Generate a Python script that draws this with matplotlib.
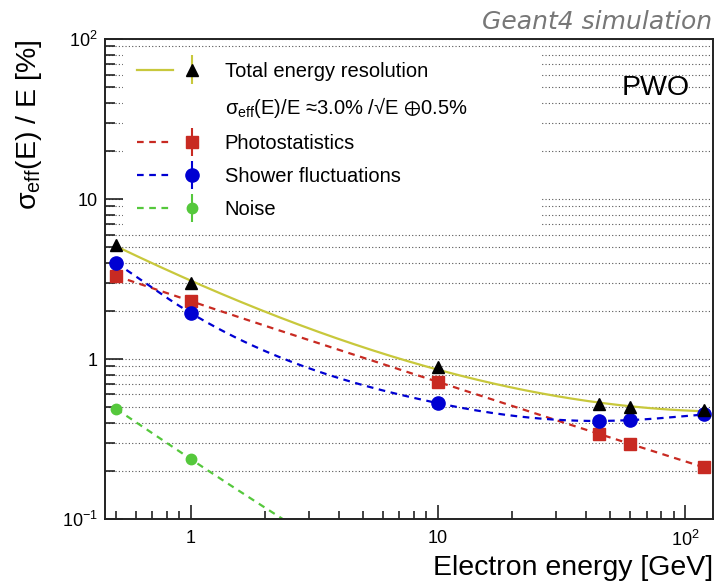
import numpy as np
import matplotlib
matplotlib.use('Agg')
import matplotlib.pyplot as plt
from matplotlib.lines import Line2D
from matplotlib.patches import Rectangle
from matplotlib.container import ErrorbarContainer
from matplotlib.legend_handler import HandlerTuple, HandlerErrorbar
from matplotlib.ticker import FixedLocator, FixedFormatter, LogLocator, NullFormatter

plt.rcParams['font.family'] = ['Liberation Sans', 'DejaVu Sans']
plt.rcParams['mathtext.fontset'] = 'custom'
plt.rcParams['mathtext.rm'] = 'Liberation Sans'
plt.rcParams['mathtext.it'] = 'Liberation Sans:italic'
plt.rcParams['mathtext.fallback'] = 'stixsans'

# electron energies [GeV]
energy = [0.5, 1, 10, 45, 60, 120]
# sigma_eff/E [%]
res_total = [5.16, 2.99, 0.89, 0.52, 0.50, 0.48]
res_photo = [3.30, 2.30, 0.72, 0.34, 0.295, 0.21]
res_shower = [3.98, 1.94, 0.53, 0.41, 0.415, 0.45]
res_noise = [0.487, 0.237, 0.024, 0.0053, 0.0040, 0.0020]

col_tot = '#c8c83c'
col_photo = '#c82a22'
col_shower = '#0000d2'
col_noise = '#55c83c'


def smooth_curve(x, y, n=80):
    # cubic hermite curve through the points, done in log-log space
    lx = np.log10(x)
    ly = np.log10(y)
    h = np.diff(lx)
    d = np.diff(ly) / h
    m = np.empty(len(lx))
    m[0] = d[0]
    m[-1] = d[-1]
    m[1:-1] = (d[:-1] * h[1:] + d[1:] * h[:-1]) / (h[:-1] + h[1:])
    xs = []
    ys = []
    for i in range(len(h)):
        t = np.linspace(0, 1, n)
        h00 = 2 * t**3 - 3 * t**2 + 1
        h10 = t**3 - 2 * t**2 + t
        h01 = -2 * t**3 + 3 * t**2
        h11 = t**3 - t**2
        xs.append(lx[i] + t * h[i])
        ys.append(h00 * ly[i] + h10 * h[i] * m[i] + h01 * ly[i + 1] + h11 * h[i] * m[i + 1])
    return 10**np.concatenate(xs), 10**np.concatenate(ys)


def fit_curve(x, y, n=300):
    # cubic fit in log-log space for the total resolution
    lx = np.log10(x)
    p = np.polyfit(lx, np.log10(y), 3)
    xx = np.linspace(lx.min(), lx.max(), n)
    return 10**xx, 10**np.polyval(p, xx)


fig = plt.figure(figsize=(7.18, 5.84), dpi=100)
ax = fig.add_axes([0.1462, 0.1113, 0.8468, 0.8219])
ax.set_xscale('log')
ax.set_yscale('log')
ax.set_xlim(0.45, 130)
ax.set_ylim(0.1, 100)
ax.set_axisbelow(True)

E = np.array(energy, dtype=float)
dash = (0, (3, 2.5))

cx, cy = fit_curve(E, np.array(res_total))
ax.plot(cx, cy, color=col_tot, lw=1.6, zorder=2)
cx, cy = smooth_curve(E, np.array(res_photo))
ax.plot(cx, cy, color=col_photo, lw=1.6, ls=dash, zorder=2)
cx, cy = smooth_curve(E, np.array(res_shower))
ax.plot(cx, cy, color=col_shower, lw=1.6, ls=dash, zorder=2)
cx, cy = smooth_curve(E, np.array(res_noise))
ax.plot(cx, cy, color=col_noise, lw=1.6, ls=dash, zorder=2)

ax.plot(E, res_photo, 's', color=col_photo, ms=8, ls='none', zorder=3)
ax.plot(E, res_shower, 'o', color=col_shower, ms=9.5, ls='none', zorder=3)
ax.plot(E, res_noise, 'o', color=col_noise, ms=7.5, ls='none', zorder=3)
ax.plot(E, res_total, '^', color='black', ms=9, ls='none', zorder=4)

# white box behind the legend hides the grid there
ax.add_patch(Rectangle((0.03, 0.602), 0.685, 0.375, transform=ax.transAxes,
                       facecolor='white', edgecolor='none', zorder=1))

# legend proxies with error bars
eb_tot = ax.errorbar([], [], yerr=[], fmt='^', color='black', ecolor=col_tot, ms=9,
                     capsize=3, elinewidth=1.5, capthick=1.5)
eb_photo = ax.errorbar([], [], yerr=[], fmt='s', color=col_photo, ms=8,
                       capsize=3, elinewidth=1.5, capthick=1.5)
eb_shower = ax.errorbar([], [], yerr=[], fmt='o', color=col_shower, ms=9.5,
                        capsize=3, elinewidth=1.5, capthick=1.5)
eb_noise = ax.errorbar([], [], yerr=[], fmt='o', color=col_noise, ms=7.5,
                       capsize=3, elinewidth=1.5, capthick=1.5)
ln_tot = Line2D([], [], color=col_tot, lw=1.6)
ln_photo = Line2D([], [], color=col_photo, lw=1.6, ls=dash)
ln_shower = Line2D([], [], color=col_shower, lw=1.6, ls=dash)
ln_noise = Line2D([], [], color=col_noise, lw=1.6, ls=dash)
blank = Line2D([], [], ls='none', marker='none')

handles = [(ln_tot, eb_tot), blank, (ln_photo, eb_photo), (ln_shower, eb_shower), (ln_noise, eb_noise)]
labels = ['Total energy resolution',
          'σ$_{\\rm eff}$(E)/E ≈3.0% /√E $\\oplus$0.5%',
          'Photostatistics',
          'Shower fluctuations',
          'Noise']
ax.legend(handles, labels, loc='upper left', bbox_to_anchor=(0.053, 0.953),
          frameon=False, fontsize=14.5, handlelength=3.6, handletextpad=0.75,
          labelspacing=0.7, borderpad=0, borderaxespad=0,
          handler_map={tuple: HandlerTuple(ndivide=None),
                       ErrorbarContainer: HandlerErrorbar(xerr_size=0.5, yerr_size=0.7)})

ax.xaxis.set_major_locator(FixedLocator([1, 10, 100]))
ax.xaxis.set_major_formatter(FixedFormatter(['1', '10', '$10^{2}$']))
ax.xaxis.set_minor_locator(LogLocator(base=10, subs=np.arange(2, 10)))
ax.xaxis.set_minor_formatter(NullFormatter())
ax.yaxis.set_major_locator(FixedLocator([0.1, 1, 10, 100]))
ax.yaxis.set_major_formatter(FixedFormatter(['$10^{-1}$', '1', '10', '$10^{2}$']))
ax.yaxis.set_minor_locator(LogLocator(base=10, subs=np.arange(2, 10)))
ax.yaxis.set_minor_formatter(NullFormatter())

ax.grid(True, which='both', axis='y', color='#555555', lw=0.8, ls=(0, (1, 2)))

ax.tick_params(which='both', direction='in', top=False, right=False, labelsize=13,
               color='#222222', width=1.2)
ax.tick_params(axis='y', which='major', length=13, pad=5)
ax.tick_params(axis='y', which='minor', length=7)
ax.tick_params(axis='x', which='major', length=10, pad=8)
ax.tick_params(axis='x', which='minor', length=5.5)
for s in ax.spines.values():
    s.set_linewidth(1.4)
    s.set_color('#222222')

ax.set_xlabel('Electron energy [GeV]', fontsize=20.5, loc='right')
ax.xaxis.set_label_coords(1.0, -0.074)
ax.set_ylabel('σ$_{\\rm eff}$(E) / E [%]', fontsize=20.5, loc='top')
ax.yaxis.set_label_coords(-0.10, 1.0)

ax.text(0.905, 0.898, 'PWO', transform=ax.transAxes, fontsize=20.5,
        ha='center', va='center')
fig.text(0.992, 0.963, 'Geant4 simulation', fontsize=18, color='#777777',
         style='italic', family='DejaVu Sans', ha='right', va='center')

fig.savefig('out.png', dpi=100)
